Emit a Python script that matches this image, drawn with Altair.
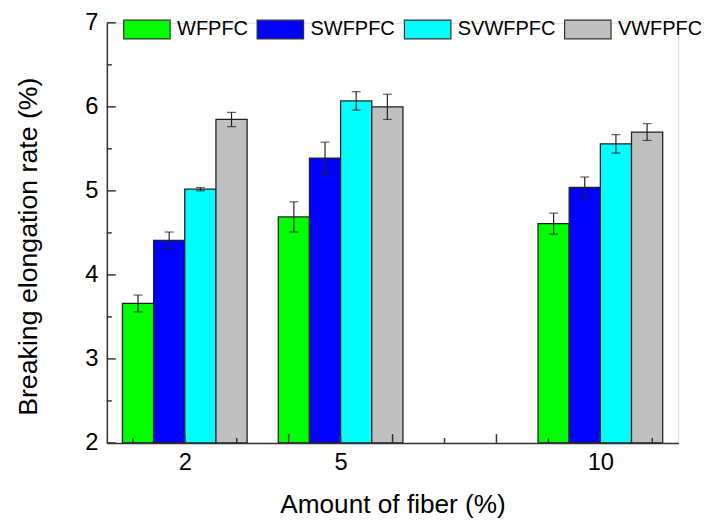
import altair as alt
import pandas as pd

amounts = [2, 5, 10]
series = ["WFPFC", "SWFPFC", "SVWFPFC", "VWFPFC"]
colors = ["#00FF00", "#0000FF", "#00FFFF", "#C0C0C0"]
values = {
    "WFPFC": [3.66, 4.69, 4.61],
    "SWFPFC": [4.41, 5.39, 5.04],
    "SVWFPFC": [5.02, 6.07, 5.56],
    "VWFPFC": [5.85, 6.00, 5.70],
}
errors = {
    "WFPFC": [0.10, 0.18, 0.125],
    "SWFPFC": [0.10, 0.19, 0.125],
    "SVWFPFC": [0.02, 0.11, 0.11],
    "VWFPFC": [0.085, 0.15, 0.10],
}
x_labels = [2, 5, 10]
x_major_ticks = [2, 4, 6, 8, 10]
x_minor_ticks = [1, 3, 5, 7, 9, 11]
y_major_ticks = [2, 3, 4, 5, 6, 7]
y_minor_ticks = [2.5, 3.5, 4.5, 5.5, 6.5]

rows = []
for i, s in enumerate(series):
    for j, a in enumerate(amounts):
        rows.append({"amount": a, "series": s, "idx": i,
                     "value": values[s][j], "err": errors[s][j]})
df = pd.DataFrame(rows)

FONT = "Liberation Sans"
W, H = 578, 425
XTITLE = "Amount of fiber (%)"
YTITLE = "Breaking elongation rate (%)"
xscale = alt.Scale(domain=[0.5, 11.5], nice=False, zero=False)
yscale = alt.Scale(domain=[2, 7], nice=False, zero=False)
xaxis = alt.Axis(values=x_labels, tickSize=0, labelPadding=8, grid=False,
                 labelFontSize=24, titleFontSize=26.5, titlePadding=17,
                 labelFont=FONT, titleFont=FONT, labelColor="black",
                 titleColor="black", titleFontWeight="normal",
                 domainColor="#333333", domainWidth=1.5, zindex=2,
                 labelFlush=False)
yaxis = alt.Axis(values=y_major_ticks, tickSize=0, labelPadding=9, grid=False,
                 labelFontSize=24, titleFontSize=27, titlePadding=43, titleY=226,
                 labelFont=FONT, titleFont=FONT, labelColor="black",
                 titleColor="black", titleFontWeight="normal",
                 domainColor="#333333", domainWidth=1.5, zindex=2,
                 labelFlush=False)

base = alt.Chart(df).transform_calculate(
    left="datum.amount + (datum.idx - 2) * 0.6",
    right="datum.amount + (datum.idx - 1) * 0.6",
    center="datum.amount + (datum.idx - 1.5) * 0.6",
    lo="datum.value - datum.err",
    hi="datum.value + datum.err",
)

bars = base.mark_bar(stroke="#222222", strokeWidth=1.3).encode(
    x=alt.X("left:Q", scale=xscale, title=XTITLE, axis=xaxis),
    x2="right:Q",
    y=alt.Y("value:Q", scale=yscale, title=YTITLE, axis=yaxis),
    y2=alt.datum(2),
    color=alt.Color("series:N", scale=alt.Scale(domain=series, range=colors),
                    legend=alt.Legend(title="", orient="none", legendX=16, legendY=-18,
                                      direction="horizontal",
                                      symbolType="M-1,-0.404H1V0.404H-1Z",
                                      symbolSize=2209, symbolStrokeColor="#333333",
                                      symbolStrokeWidth=1.2, symbolOpacity=1,
                                      labelFontSize=20.2, labelFont=FONT,
                                      labelColor="black", labelOffset=6,
                                      columnPadding=6)),
)

err_rule = base.mark_rule(color="#222222", strokeWidth=1.2).encode(
    x=alt.X("center:Q", scale=xscale, title=XTITLE, axis=xaxis),
    y=alt.Y("lo:Q", scale=yscale, title=YTITLE, axis=yaxis),
    y2="hi:Q",
)
cap_hi = base.mark_tick(orient="horizontal", color="#222222", size=9, thickness=1.2).encode(
    x=alt.X("center:Q", scale=xscale, title=XTITLE, axis=xaxis),
    y=alt.Y("hi:Q", scale=yscale, title=YTITLE, axis=yaxis),
)
cap_lo = base.mark_tick(orient="horizontal", color="#222222", size=9, thickness=1.2).encode(
    x=alt.X("center:Q", scale=xscale, title=XTITLE, axis=xaxis),
    y=alt.Y("lo:Q", scale=yscale, title=YTITLE, axis=yaxis),
)

xt_major = alt.Chart(pd.DataFrame({"t": x_major_ticks})).mark_rule(
    color="#333333", strokeWidth=1.5).encode(
    x=alt.X("t:Q", scale=xscale, title=XTITLE, axis=xaxis),
    y=alt.value(H), y2=alt.value(H - 9))
xt_minor = alt.Chart(pd.DataFrame({"t": x_minor_ticks})).mark_rule(
    color="#333333", strokeWidth=1.5).encode(
    x=alt.X("t:Q", scale=xscale, title=XTITLE, axis=xaxis),
    y=alt.value(H), y2=alt.value(H - 5))
yt_major = alt.Chart(pd.DataFrame({"t": y_major_ticks})).mark_rule(
    color="#333333", strokeWidth=1.5).encode(
    y=alt.Y("t:Q", scale=yscale, title=YTITLE, axis=yaxis),
    x=alt.value(0), x2=alt.value(9))
yt_minor = alt.Chart(pd.DataFrame({"t": y_minor_ticks})).mark_rule(
    color="#333333", strokeWidth=1.5).encode(
    y=alt.Y("t:Q", scale=yscale, title=YTITLE, axis=yaxis),
    x=alt.value(0), x2=alt.value(5))

chart = alt.layer(bars, err_rule, cap_hi, cap_lo, xt_major, xt_minor, yt_major, yt_minor).properties(
    width=W, height=H,
    autosize=alt.AutoSizeParams(type="none"),
    padding={"left": 100, "top": 12, "right": 23, "bottom": 78},
).configure_view(strokeWidth=0).configure(background="white")

chart.save("out.html", embed_options={"renderer": "svg", "actions": False})
